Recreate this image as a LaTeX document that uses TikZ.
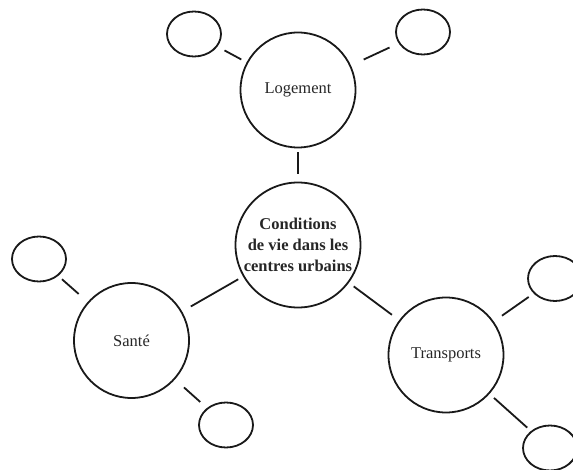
\documentclass[tikz,border=0pt]{standalone}
\usepackage{fontspec}
\setmainfont{Liberation Serif}
\usetikzlibrary{shapes.geometric, positioning}
\tikzset{
    % Base bubble style
    bubble/.style={
        circle,
        draw=black!90,
        line width=1.8pt,
        inner sep=0pt,
        align=center,
        text=black!85,
        font=\fontsize{16.5}{21}\selectfont
    },
    % Specific role styles
    hubBubble/.style={bubble, minimum size=125pt, font=\bfseries\fontsize{16.5}{21}\selectfont},
    topicBubble/.style={bubble, minimum size=115pt},
    leafBubble/.style={ellipse, draw=black!90, line width=1.8pt, minimum width=54pt, minimum height=45pt, inner sep=0pt},
    % Connector style
    link/.style={line width=1.8pt, draw=black!90}
}
\begin{document}
\begin{tikzpicture}[x=1pt, y=-1pt]

    \useasboundingbox (0,0) rectangle (573,470);

    % --- CENTRE ---
    \node (hub) [hubBubble] at (298,245) {Conditions\\de vie dans les\\centres urbains};

    % --- TOPICS ---
    \node (logement) [topicBubble] at (298,90) {Logement};
    \node (sante) [topicBubble] at (131.5,340.5) {Santé};
    \node (transports) [topicBubble] at (446,355) {Transports};

    % --- EMPTY LEAVES ---
    \node (logA) [leafBubble] at (194,34) {};
    \node (logB) [leafBubble] at (423,32) {};
    \node (santeA) [leafBubble] at (39,259) {};
    \node (santeB) [leafBubble] at (226,425) {};
    \node (transA) [leafBubble] at (555,278.5) {};
    \node (transB) [leafBubble] at (550,448) {};

    % --- Links ---
    \draw [link, shorten <=8pt, shorten >=4pt] (hub) -- (logement);
    \draw [link, shorten <=5.5pt, shorten >=10pt] (hub) -- (sante);
    \draw [link, shorten <=6pt, shorten >=9pt] (hub) -- (transports);

    \draw [link, shorten <=6pt, shorten >=8pt] (logement) -- (logA);
    \draw [link, shorten <=14pt, shorten >=10pt] (logement) -- (logB);
    \draw [link, shorten <=12pt, shorten >=5pt] (sante) -- (santeA);
    \draw [link, shorten <=12pt, shorten >=9pt] (sante) -- (santeB);
    \draw [link, shorten <=10pt, shorten >=6pt] (transports) -- (transA);
    \draw [link, shorten <=6pt, shorten >=5pt] (transports) -- (transB);

\end{tikzpicture}
\end{document}
